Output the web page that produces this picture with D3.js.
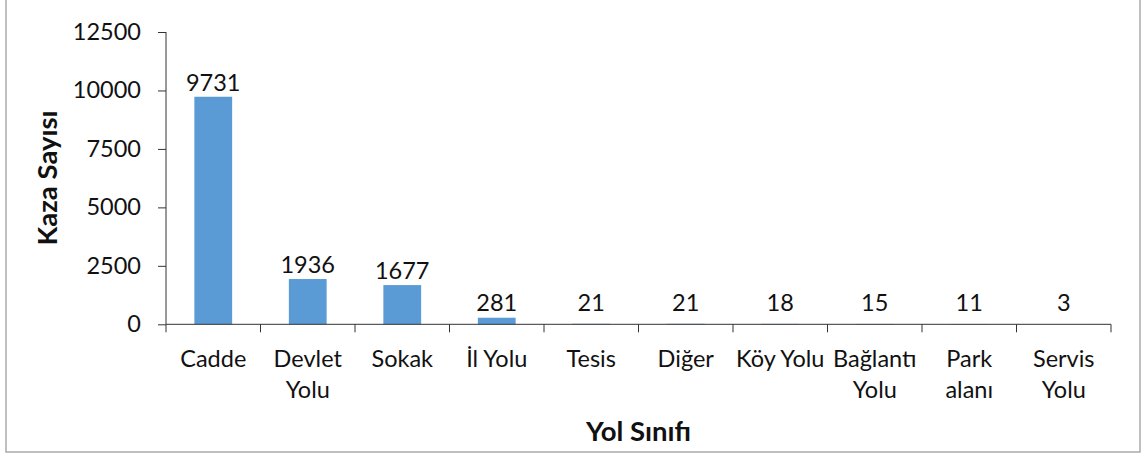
<!DOCTYPE html>
<html><head><meta charset="utf-8">
<script src="https://cdn.jsdelivr.net/npm/d3@7/dist/d3.min.js"></script>
<style>
html,body{margin:0;padding:0;background:#fff;}
svg{display:block;}
text{font-family:Lato,"Open Sans",sans-serif;fill:#111;}
</style></head><body>
<svg id="c" width="1144" height="454"></svg>
<script>
const categories = [["Cadde"],["Devlet","Yolu"],["Sokak"],["İl Yolu"],["Tesis"],["Diğer"],["Köy Yolu"],["Bağlantı","Yolu"],["Park","alanı"],["Servis","Yolu"]];
const values = [9731,1936,1677,281,21,21,18,15,11,3];
const yTicks = [0,2500,5000,7500,10000,12500];
const yTitle = "Kaza Sayısı";
const xTitle = "Yol Sınıfı";

const svg = d3.select("#c");
const W = 1144, H = 454;
const m = {left:166, right:33, top:32, bottom:130};
const x0 = m.left, x1 = W - m.right, y0 = H - m.bottom, y1 = m.top;
const fs = "23.5px", tfs = "27.5px";

// outer border
svg.append("rect").attr("x",6).attr("y",-2).attr("width",1134).attr("height",454)
  .attr("fill","none").attr("stroke","#aaa").attr("stroke-width",1.5);

const x = d3.scaleBand().domain(d3.range(values.length)).range([x0,x1]).paddingInner(0.6).paddingOuter(0.3);
const xb = d3.scaleBand().domain(d3.range(values.length)).range([x0,x1]);
const y = d3.scaleLinear().domain([0,12500]).range([y0+0.3,y1]);

// bars
svg.append("g").selectAll("rect").data(values).join("rect")
  .attr("x",(d,i)=>x(i)).attr("width",x.bandwidth())
  .attr("y",d=>y(d)).attr("height",d=>y(0)-y(d))
  .attr("fill","#5B9BD5");

// y axis
const yAxis = d3.axisLeft(y).tickValues(yTicks).tickSize(8).tickPadding(17).tickFormat(d3.format("d"));
const gy = svg.append("g").attr("transform",`translate(${x0},0)`).call(yAxis);
gy.selectAll("text").style("font-size",fs).attr("fill","#111");
gy.selectAll("line,path").attr("stroke","#333");
gy.select(".domain").attr("d",`M0,${y1}V${y0}`);

// x axis (ticks at band boundaries)
const gx = svg.append("g");
gx.append("line").attr("x1",x0).attr("x2",x1).attr("y1",y(0)).attr("y2",y(0)).attr("stroke","#333");
gx.selectAll("line.t").data(d3.range(values.length+1)).join("line").attr("class","t")
  .attr("x1",i=>i<values.length?xb(i):x1).attr("x2",i=>i<values.length?xb(i):x1)
  .attr("y1",y(0)).attr("y2",y(0)+8).attr("stroke","#333");
const labs = gx.selectAll("text").data(categories).join("text")
  .attr("text-anchor","middle").style("font-size",fs)
  .attr("x",(d,i)=>xb(i)+xb.bandwidth()/2).attr("y",367);
labs.selectAll("tspan").data(d=>d).join("tspan")
  .attr("x",function(){return this.parentNode.getAttribute("x");})
  .attr("dy",(d,j)=>j===0?0:31).text(d=>d);

// value labels
svg.append("g").selectAll("text").data(values).join("text")
  .attr("text-anchor","middle").style("font-size",fs)
  .attr("x",(d,i)=>x(i)+x.bandwidth()/2)
  .attr("y",d=>Math.min(y(d)-6, y(0)-13)).text(d=>d);

// titles
svg.append("text").attr("transform",`translate(57,${(y0+y1)/2}) rotate(-90)`)
  .attr("text-anchor","middle").style("font-size",tfs).style("font-weight","bold").text(yTitle);
svg.append("text").attr("x",(x0+x1)/2).attr("y",441)
  .attr("text-anchor","middle").style("font-size",tfs).style("font-weight","bold").text(xTitle);
</script></body></html>
